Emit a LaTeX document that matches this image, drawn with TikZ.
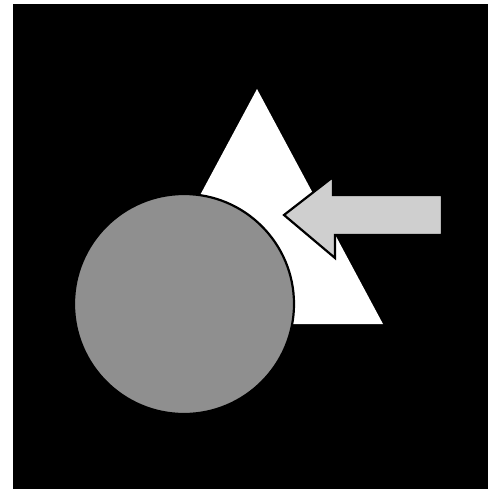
\documentclass[tikz,border=0pt]{standalone}
\begin{document}
\begin{tikzpicture}[x=1pt,y=-1pt,
  outl/.style={draw=black,line width=2.2pt,line join=miter}]
\useasboundingbox (0,0) rectangle (488,489);
\fill[white] (0,0) rectangle (488,489);
\fill[black] (13,4) rectangle (488,489);
% triangle
\fill[white] (257,89) -- (383,324) -- (131,324) -- cycle;
% circle
\filldraw[fill=black!44!white,outl] (184,304) circle (110);
% arrow
\filldraw[fill=black!19!white,outl] (442,195) -- (333,195) -- (333,177) -- (284,215) -- (335,258) -- (335,235) -- (442,235) -- cycle;
\end{tikzpicture}
\end{document}
